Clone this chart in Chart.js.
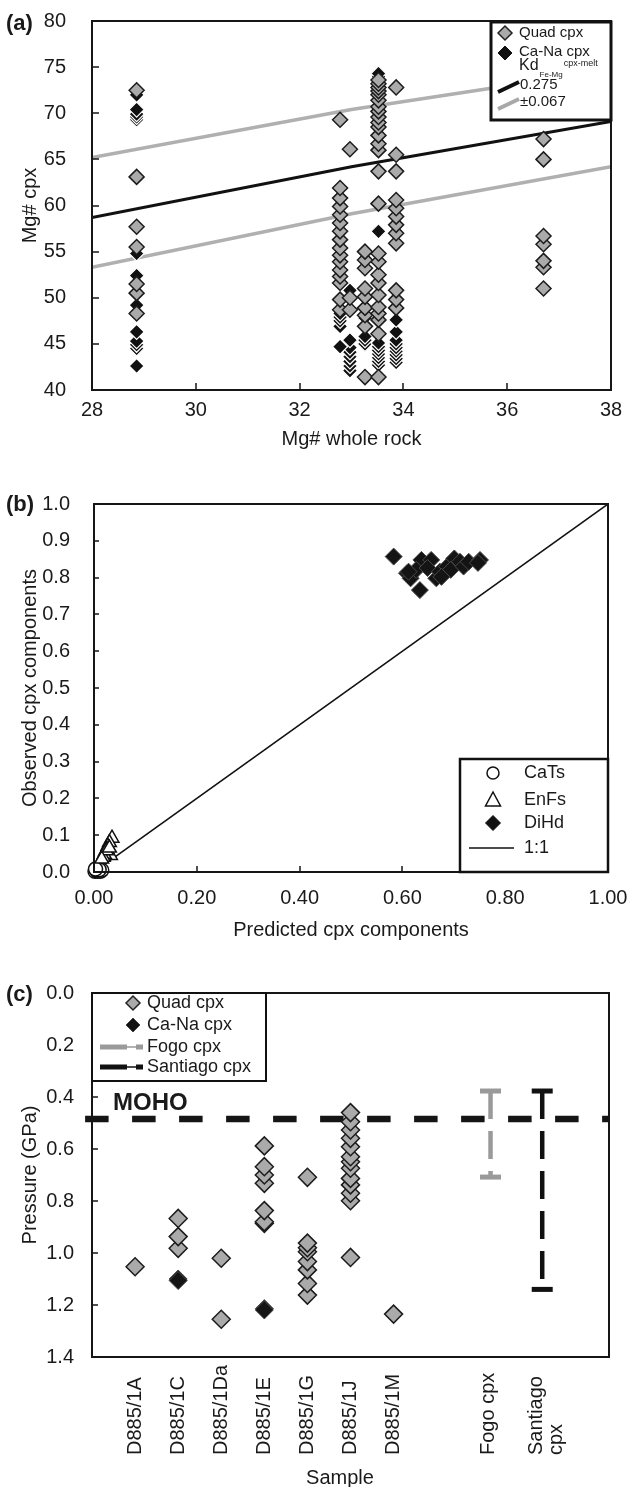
<!DOCTYPE html>
<html>
<head>
<meta charset="utf-8">
<title>cpx figure</title>
<script src="https://cdn.jsdelivr.net/npm/chart.js@4.4.1/dist/chart.umd.min.js"></script>
<style>
  html, body { margin: 0; padding: 0; background: #fff; }
  #page { position: relative; width: 630px; height: 1487px; overflow: hidden;
          font-family: "Liberation Sans", Arial, Helvetica, sans-serif; color: #1a1a1a; }
  #page canvas { position: absolute; left: 0; }
  .tag { position: absolute; left: 6px; font-size: 22px; font-weight: bold; line-height: 22px; }
</style>
</head>
<body>
<div id="page">
  <canvas id="panelA" width="630" height="455" style="top:0;width:630px;height:455px"></canvas>
  <canvas id="panelB" width="630" height="485" style="top:455px;width:630px;height:485px"></canvas>
  <canvas id="panelC" width="630" height="547" style="top:940px;width:630px;height:547px"></canvas>
  <div class="tag" style="top:12px">(a)</div>
  <div class="tag" style="top:493px">(b)</div>
  <div class="tag" style="top:983px">(c)</div>
</div>
<script>
// ---- panel (a): Mg# cpx against Mg# whole rock ----
const wholeRockMg = [28.86, 32.78, 32.97, 33.26, 33.52, 33.86, 36.7];
const quadCpxMg = [
  [72.5, 63.1, 57.7, 55.5, 51.5, 50.5, 48.3],
  [69.3, 61.9, 60.8, 59.9, 59.0, 58.1, 57.2, 56.3, 55.4, 54.6, 53.9, 53.0, 52.3, 51.6, 49.8, 48.7],
  [66.1, 50.0, 48.7],
  [55.0, 54.1, 53.2, 51.0, 50.1, 48.9, 48.1, 46.9, 41.4],
  [73.6, 73.2, 72.8, 72.4, 72.0, 71.4, 70.7, 70.2, 69.6, 69.0, 68.5, 67.6, 66.7, 66.0, 63.7, 60.2,
   54.8, 53.9, 52.5, 51.6, 50.3, 49.0, 48.3, 47.6, 46.1, 41.4],
  [72.8, 65.5, 63.7, 60.6, 59.7, 58.8, 57.9, 57.0, 55.9, 50.8, 49.8, 48.9],
  [67.2, 65.0, 56.7, 55.8, 54.0, 53.3, 51.0]
];
const caNaCpxMg = [
  [72.0, 70.4, 69.9, 69.6, 69.3, 54.8, 52.4, 49.2, 46.3, 45.3, 44.9, 44.5, 42.6],
  [48.3, 47.9, 47.5, 46.9, 44.7],
  [50.8, 45.4, 44.6, 44.1, 43.6, 43.1, 42.6, 42.1],
  [47.8, 45.8, 45.4, 45.0],
  [74.3, 74.0, 57.2, 45.1, 44.7, 44.3, 43.9, 43.5, 43.1, 42.7],
  [47.6, 46.3, 45.4, 45.0, 44.6, 44.2, 43.8, 43.4, 43.0],
  []
];
const kdRockMg = [28, 33, 38];
const kdMid = [58.7, 64.2, 69.1];     // Kd 0.275
const kdUpper = [65.2, 70.4, 74.7];   // 0.275 - 0.067
const kdLower = [53.3, 59.1, 64.2];   // 0.275 + 0.067

// ---- panel (b): observed vs predicted cpx components ----
const diHdPred = [0.583, 0.609, 0.616, 0.634, 0.637, 0.627, 0.656, 0.649, 0.666, 0.673,
                  0.687, 0.701, 0.694, 0.712, 0.719, 0.729, 0.751, 0.747, 0.612, 0.676];
const diHdObs  = [0.857, 0.812, 0.798, 0.766, 0.848, 0.821, 0.848, 0.826, 0.798, 0.816,
                  0.830, 0.852, 0.821, 0.843, 0.830, 0.843, 0.848, 0.840, 0.816, 0.802];
const enFsPred = [0.035, 0.030, 0.027, 0.025, 0.022, 0.028, 0.032, 0.020, 0.018, 0.024, 0.030, 0.015];
const enFsObs  = [0.092, 0.080, 0.070, 0.062, 0.055, 0.050, 0.045, 0.048, 0.040, 0.058, 0.065, 0.035];
const caTsPred = [0.002, 0.005, 0.008, 0.012, 0.015, 0.010, 0.003];
const caTsObs  = [0.002, 0.004, 0.003, 0.002, 0.005, 0.006, 0.008];
const oneToOne = [0, 1];

// ---- panel (c): pressure per sample ----
const samplePos = [1, 2, 3, 4, 5, 6, 7];
const quadPressure = [
  [1.053],
  [0.867, 0.937, 0.982],
  [1.020, 1.255],
  [0.588, 0.668, 0.700, 0.732, 0.837, 0.880, 0.886],
  [0.709, 0.962, 0.980, 0.995, 1.033, 1.065, 1.117, 1.162],
  [0.460, 0.495, 0.527, 0.559, 0.591, 0.630, 0.649, 0.674, 0.713, 0.738, 0.770, 0.799, 1.017],
  [1.235]
];
const caNaPressure = [[], [1.100, 1.106], [], [1.214, 1.219], [], [], []];
const fogoPos = 9.25, fogoRange = [0.377, 0.708];
const santiagoPos = 10.45, santiagoRange = [0.377, 1.14];
const mohoX = [-0.16, 12], mohoP = 0.485;
const labelPosC = [1, 2, 3, 4, 5, 6, 7, 9.2, 10.55];
const labelTextC = ['D885/1A', 'D885/1C', 'D885/1Da', 'D885/1E', 'D885/1G', 'D885/1J', 'D885/1M',
                    'Fogo cpx', 'Santiago\ncpx'];

const FONT = '"Liberation Sans", Arial, Helvetica, sans-serif';
const INK = '#1a1a1a';
Chart.defaults.font.family = FONT;
Chart.defaults.font.size = 20;
Chart.defaults.color = INK;
Chart.defaults.animation = false;
Chart.defaults.plugins.legend.display = false;
Chart.defaults.plugins.tooltip.enabled = false;

function flatPts(xs, groups) {
  return xs.flatMap((x, i) => groups[i].map(y => ({ x: x, y: y }))).sort((p, q) => p.y - q.y);
}
function pairPts(xs, ys) { return xs.map((x, i) => ({ x: x, y: ys[i] })); }

function diamond(ctx, x, y, r, fill, stroke, lw) {
  ctx.beginPath();
  ctx.moveTo(x - r, y); ctx.lineTo(x, y - r); ctx.lineTo(x + r, y); ctx.lineTo(x, y + r);
  ctx.closePath();
  ctx.fillStyle = fill; ctx.fill();
  if (lw) { ctx.strokeStyle = stroke; ctx.lineWidth = lw; ctx.stroke(); }
}

// box around the plot plus short ticks pointing inwards
const frame = {
  id: 'frame',
  afterDatasetsDraw(chart, args, o) {
    const { ctx, chartArea: a, scales } = chart;
    ctx.save();
    ctx.strokeStyle = '#161616';
    ctx.lineWidth = 1.5;
    ctx.beginPath();
    if (o.xTick) scales.x.ticks.forEach(t => {
      const px = Math.round(scales.x.getPixelForValue(t.value));
      ctx.moveTo(px, a.bottom); ctx.lineTo(px, a.bottom - o.xTick);
    });
    if (o.yTick) scales.y.ticks.forEach(t => {
      const py = Math.round(scales.y.getPixelForValue(t.value));
      ctx.moveTo(a.left, py); ctx.lineTo(a.left + o.yTick, py);
    });
    ctx.stroke();
    ctx.lineWidth = o.width;
    ctx.strokeRect(a.left, a.top, a.right - a.left, a.bottom - a.top);
    ctx.restore();
  }
};

const legendA = {
  id: 'legendA',
  afterDraw(chart) {
    const { ctx, chartArea: a } = chart;
    const W = 121, H = 99, L = a.right - W, T = a.top;
    ctx.save();
    ctx.fillStyle = '#fff'; ctx.fillRect(L, T, W, H);
    ctx.strokeStyle = '#111'; ctx.lineWidth = 3;
    ctx.strokeRect(L + 1, T + 1, W - 1, H - 1);
    diamond(ctx, L + 15, T + 12, 7, '#aaaaaa', '#222', 1.5);
    diamond(ctx, L + 15, T + 32, 7, '#111', '#111', 1);
    ctx.fillStyle = INK; ctx.textBaseline = 'middle'; ctx.textAlign = 'left';
    ctx.font = '15px ' + FONT;
    ctx.fillText('Quad cpx', L + 29, T + 12);
    ctx.fillText('Ca-Na cpx', L + 29, T + 31);
    ctx.font = '16px ' + FONT;
    ctx.fillText('Kd', L + 29, T + 45);
    const kw = ctx.measureText('Kd').width;
    ctx.font = '8px ' + FONT;
    ctx.fillText('Fe-Mg', L + 30 + kw, T + 54);
    const fw = ctx.measureText('Fe-Mg').width;
    ctx.font = '9px ' + FONT;
    ctx.fillText('cpx-melt', L + 31 + kw + fw, T + 43);
    ctx.lineWidth = 4; ctx.lineCap = 'butt';
    ctx.strokeStyle = '#111';
    ctx.beginPath(); ctx.moveTo(L + 8, T + 71); ctx.lineTo(L + 29, T + 61); ctx.stroke();
    ctx.strokeStyle = '#a8a8a8';
    ctx.beginPath(); ctx.moveTo(L + 8, T + 88); ctx.lineTo(L + 29, T + 78); ctx.stroke();
    ctx.font = '15px ' + FONT;
    ctx.fillText('0.275', L + 30, T + 64);
    ctx.fillText('\u00b10.067', L + 30, T + 81);
    ctx.restore();
  }
};

const legendB = {
  id: 'legendB',
  afterDraw(chart) {
    const { ctx, chartArea: a } = chart;
    const W = 148, H = 113, L = a.right - W, T = a.bottom - H;
    const rows = [14, 41, 64, 89], names = ['CaTs', 'EnFs', 'DiHd', '1:1'];
    const mx = L + 33;
    ctx.save();
    ctx.fillStyle = '#fff'; ctx.fillRect(L, T, W, H);
    ctx.strokeStyle = '#111'; ctx.lineWidth = 2.5; ctx.strokeRect(L, T, W, H);
    ctx.lineWidth = 1.5; ctx.fillStyle = '#fff';
    ctx.beginPath(); ctx.arc(mx, T + rows[0], 6, 0, Math.PI * 2); ctx.fill(); ctx.stroke();
    ctx.beginPath();
    ctx.moveTo(mx, T + rows[1] - 8); ctx.lineTo(mx + 7.5, T + rows[1] + 6); ctx.lineTo(mx - 7.5, T + rows[1] + 6);
    ctx.closePath(); ctx.fill(); ctx.stroke();
    diamond(ctx, mx, T + rows[2], 7.5, '#111', '#111', 1);
    ctx.lineWidth = 1.5; ctx.strokeStyle = '#111';
    ctx.beginPath(); ctx.moveTo(L + 9, T + rows[3]); ctx.lineTo(L + 54, T + rows[3]); ctx.stroke();
    ctx.fillStyle = INK; ctx.font = '18px ' + FONT; ctx.textBaseline = 'middle';
    names.forEach((s, i) => ctx.fillText(s, L + 64, T + rows[i]));
    ctx.restore();
  }
};

const legendC = {
  id: 'legendC',
  afterDraw(chart) {
    const { ctx, chartArea: a } = chart;
    const W = 174, H = 88, L = a.left, T = a.top;
    const rows = [10, 32, 54, 74];
    ctx.save();
    ctx.fillStyle = '#fff'; ctx.fillRect(L, T, W, H);
    ctx.strokeStyle = '#111'; ctx.lineWidth = 2; ctx.strokeRect(L, T, W, H);
    diamond(ctx, L + 41, T + rows[0], 7, '#aaaaaa', '#222', 1.5);
    diamond(ctx, L + 41, T + rows[1], 7, '#111', '#444', 1);
    [['#9a9a9a', rows[2]], ['#111', rows[3]]].forEach(([c, r]) => {
      ctx.strokeStyle = c; ctx.fillStyle = c;
      ctx.lineWidth = 5;
      ctx.beginPath(); ctx.moveTo(L + 8, T + r); ctx.lineTo(L + 35, T + r); ctx.stroke();
      ctx.lineWidth = 1.5;
      ctx.beginPath(); ctx.moveTo(L + 35, T + r); ctx.lineTo(L + 45, T + r); ctx.stroke();
      ctx.fillRect(L + 44, T + r - 2.5, 7, 5);
    });
    ctx.fillStyle = INK; ctx.font = '18px ' + FONT; ctx.textBaseline = 'middle';
    ['Quad cpx', 'Ca-Na cpx', 'Fogo cpx', 'Santiago cpx'].forEach((s, i) => ctx.fillText(s, L + 55, T + rows[i]));
    ctx.restore();
  }
};

// rotated sample names, MOHO label and the "Sample" title of panel (c)
const sampleText = {
  id: 'sampleText',
  afterDraw(chart) {
    const { ctx, chartArea: a, scales } = chart;
    ctx.save();
    ctx.fillStyle = INK;
    ctx.font = '20px ' + FONT;
    ctx.textAlign = 'left'; ctx.textBaseline = 'middle';
    labelPosC.forEach((p, i) => {
      const lines = labelTextC[i].split('\n');
      const px = scales.x.getPixelForValue(p);
      lines.forEach((ln, j) => {
        ctx.save();
        ctx.translate(px + (j - (lines.length - 1) / 2) * 20, a.bottom + 98);
        ctx.rotate(-Math.PI / 2);
        ctx.fillText(ln, 0, 0);
        ctx.restore();
      });
    });
    ctx.textAlign = 'center';
    ctx.fillText('Sample', 340, a.bottom + 121);
    ctx.font = 'bold 24px ' + FONT;
    ctx.textAlign = 'left';
    ctx.fillText('MOHO', a.left + 21, scales.y.getPixelForValue(mohoP) - 16);
    ctx.restore();
  }
};

function linAxis(min, max, step, digits, pad, extra) {
  return Object.assign({
    type: 'linear', min: min, max: max,
    ticks: { stepSize: step, padding: pad, autoSkip: false, maxRotation: 0,
             callback: v => Number(v).toFixed(digits) },
    grid: { display: false },
    border: { display: false }
  }, extra);
}
function axTitle(text, pad) {
  return { display: true, text: text, font: { size: 20, lineHeight: 1 }, padding: pad };
}
// fixed axis sizes; drop the label overflow padding so the layout padding decides the plot box
function fixW(w) { return s => { s.width = w; s.paddingTop = 0; s.paddingBottom = 0; }; }
function fixH(h) { return s => { s.height = h; s.paddingLeft = 0; s.paddingRight = 0; }; }

// ---------- chart (a) ----------
new Chart(document.getElementById('panelA'), {
  type: 'scatter',
  data: {
    datasets: [
      { label: 'Quad cpx', data: flatPts(wholeRockMg, quadCpxMg), pointStyle: 'rectRot', pointRadius: 7.5,
        backgroundColor: '#aaaaaa', borderColor: '#1c1c1c', borderWidth: 1.5 },
      { label: 'Ca-Na cpx', data: flatPts(wholeRockMg, caNaCpxMg), pointStyle: 'rectRot', pointRadius: 7.5,
        backgroundColor: '#111', borderColor: '#fff', borderWidth: 1.2 },
      { label: '0.275', data: pairPts(kdRockMg, kdMid), showLine: true, pointRadius: 0,
        borderColor: '#111', borderWidth: 3 },
      { label: 'upper', data: pairPts(kdRockMg, kdUpper), showLine: true, pointRadius: 0,
        borderColor: '#b0b0b0', borderWidth: 3.5 },
      { label: 'lower', data: pairPts(kdRockMg, kdLower), showLine: true, pointRadius: 0,
        borderColor: '#b0b0b0', borderWidth: 3.5 }
    ]
  },
  options: {
    responsive: false,
    layout: { padding: { top: 21, right: 19, left: 0, bottom: 0 } },
    scales: {
      x: linAxis(28, 38, 2, 0, 0, { title: axTitle('Mg# whole rock', { top: 0, bottom: 6 }), afterFit: fixH(65) }),
      y: linAxis(40, 80, 5, 0, 18, { title: axTitle('Mg# cpx', { top: 20, bottom: 0 }), afterFit: fixW(92) })
    },
    plugins: { frame: { width: 2, xTick: 7, yTick: 7 } }
  },
  plugins: [frame, legendA]
});

// ---------- chart (b) ----------
new Chart(document.getElementById('panelB'), {
  type: 'scatter',
  data: {
    datasets: [
      { label: 'DiHd', data: pairPts(diHdPred, diHdObs), pointStyle: 'rectRot', pointRadius: 8.5,
        backgroundColor: '#141414', borderColor: '#4a4a4a', borderWidth: 1, clip: false },
      { label: 'EnFs', data: pairPts(enFsPred, enFsObs), pointStyle: 'triangle', pointRadius: 8,
        backgroundColor: '#fff', borderColor: '#111', borderWidth: 1.5, clip: false },
      { label: 'CaTs', data: pairPts(caTsPred, caTsObs), pointStyle: 'circle', pointRadius: 7,
        backgroundColor: '#fff', borderColor: '#111', borderWidth: 1.5, clip: false },
      { label: '1:1', data: pairPts(oneToOne, oneToOne), showLine: true, pointRadius: 0,
        borderColor: '#111', borderWidth: 1.5 }
    ]
  },
  options: {
    responsive: false,
    layout: { padding: { top: 49, right: 22, left: 0, bottom: 0 } },
    scales: {
      x: linAxis(0, 1, 0.2, 2, 6, { title: axTitle('Predicted cpx components', { top: 0, bottom: 0 }), afterFit: fixH(68) }),
      y: linAxis(0, 1, 0.1, 1, 16, { title: axTitle('Observed cpx components', { top: 20, bottom: 0 }), afterFit: fixW(94) })
    },
    plugins: { frame: { width: 2, xTick: 6, yTick: 5 } }
  },
  plugins: [frame, legendB]
});

// ---------- chart (c) ----------
function bar(pos, range, color) {
  return { data: [{ x: pos, y: range[0] }, { x: pos, y: range[1] }], showLine: true,
           borderColor: color, borderWidth: 4.5, borderDash: [28, 12],
           pointStyle: 'line', pointRadius: 10.5, pointBorderWidth: 5, pointBorderColor: color,
           pointBackgroundColor: color };
}
new Chart(document.getElementById('panelC'), {
  type: 'scatter',
  data: {
    datasets: [
      { label: 'Quad cpx', data: flatPts(samplePos, quadPressure).reverse(), pointStyle: 'rectRot', pointRadius: 9,
        backgroundColor: '#aaaaaa', borderColor: '#1c1c1c', borderWidth: 1.5 },
      { label: 'Ca-Na cpx', data: flatPts(samplePos, caNaPressure), pointStyle: 'rectRot', pointRadius: 9,
        backgroundColor: '#151515', borderColor: '#444', borderWidth: 1 },
      Object.assign({ label: 'Fogo cpx' }, bar(fogoPos, fogoRange, '#9a9a9a')),
      Object.assign({ label: 'Santiago cpx' }, bar(santiagoPos, santiagoRange, '#111')),
      { label: 'MOHO', data: mohoX.map(x => ({ x: x, y: mohoP })), showLine: true, pointRadius: 0,
        borderColor: '#151515', borderWidth: 6.5, borderDash: [23.5, 23.5], clip: false }
    ]
  },
  options: {
    responsive: false,
    layout: { padding: { top: 53, right: 21, left: 0, bottom: 0 } },
    scales: {
      x: { type: 'linear', min: 0, max: 12, ticks: { display: false }, grid: { display: false },
           border: { display: false }, afterFit: fixH(130) },
      y: linAxis(0, 1.4, 0.2, 1, 10, { reverse: true, title: axTitle('Pressure (GPa)', { top: 20, bottom: 0 }),
        afterFit: fixW(92) })
    },
    plugins: { frame: { width: 2, yTick: 6 } }
  },
  plugins: [frame, legendC, sampleText]
});
</script>
</body>
</html>
